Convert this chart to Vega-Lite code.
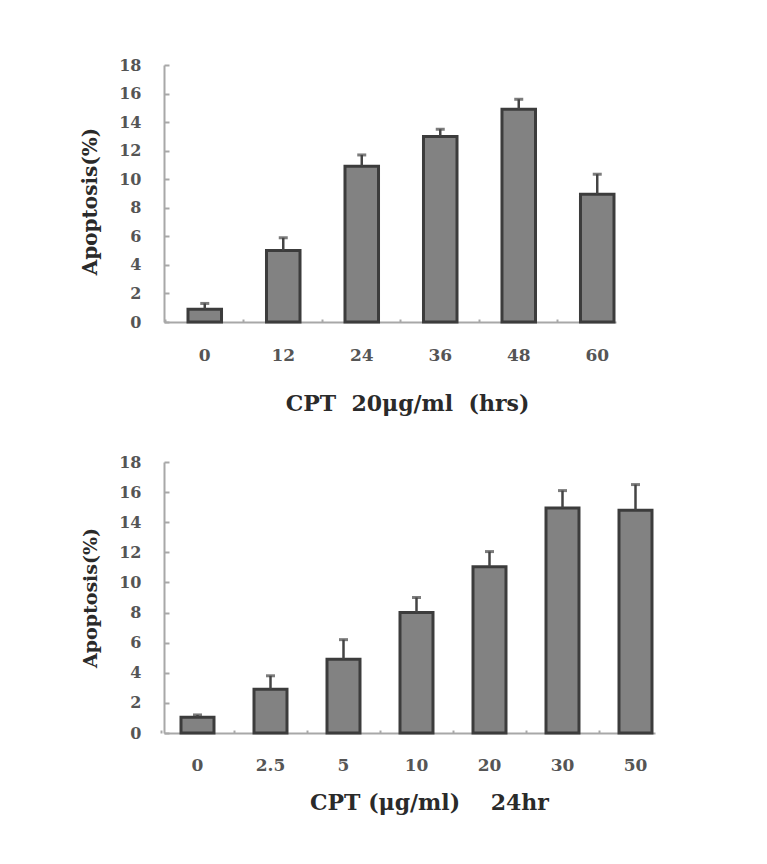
{
  "$schema": "https://vega.github.io/schema/vega-lite/v6.json",
  "background": "white",
  "padding": {"left": 80, "top": 57, "right": 5, "bottom": 5},
  "config": {
    "view": {"stroke": null},
    "font": "DejaVu Serif",
    "axis": {
      "labelFont": "DejaVu Serif",
      "titleFont": "DejaVu Serif",
      "labelFontWeight": "bold",
      "titleFontWeight": "bold",
      "labelColor": "#555",
      "titleColor": "#2a2a2a",
      "domainColor": "#a8a8a8",
      "domainWidth": 2,
      "tickColor": "#a8a8a8",
      "tickWidth": 2,
      "grid": false
    }
  },
  "spacing": 40,
  "vconcat": [
    {
      "width": 452,
      "height": 257,
      "data": {"values": [
        {"t": "0", "v": 0.9, "hi": 1.3},
        {"t": "12", "v": 5.0, "hi": 5.9},
        {"t": "24", "v": 10.9, "hi": 11.7},
        {"t": "36", "v": 13.0, "hi": 13.5},
        {"t": "48", "v": 14.9, "hi": 15.6},
        {"t": "60", "v": 8.95, "hi": 10.35}
      ]},
      "encoding": {
        "x": {"field": "t", "type": "ordinal", "sort": null,
          "scale": {"paddingInner": 0.573, "paddingOuter": 0.1656, "align": 0.923},
          "axis": {"title": "CPT\u00a0\u00a020μg/ml\u00a0\u00a0(hrs)", "titleFontSize": 22, "titleX": 243, "titleAlign": "center",
            "labelAngle": 0, "labelFontSize": 17, "labelBaseline": "middle", "labelPadding": 36, "titlePadding": 30,
            "bandPosition": -0.672, "tickSize": -3}}
      },
      "layer": [
        {"mark": {"type": "bar", "color": "#828282", "stroke": "#3c3c3c", "strokeWidth": 3},
         "encoding": {"y": {"field": "v", "type": "quantitative",
           "scale": {"domain": [0, 18]},
           "axis": {"title": "Apoptosis(%)", "titleFontSize": 20, "titleY": 136, "values": [0,2,4,6,8,10,12,14,16,18],
             "labelOverlap": false, "labelFontSize": 16, "tickSize": -5, "labelPadding": 28, "titlePadding": 18}}}},
        {"mark": {"type": "rule", "color": "#444", "strokeWidth": 2.5},
         "encoding": {"y": {"field": "v", "type": "quantitative",
           "axis": {"title": "Apoptosis(%)", "titleFontSize": 20, "titleY": 136, "values": [0,2,4,6,8,10,12,14,16,18],
             "labelOverlap": false, "labelFontSize": 16, "tickSize": -5, "labelPadding": 28, "titlePadding": 18}},
           "y2": {"field": "hi"}}},
        {"mark": {"type": "tick", "color": "#444", "thickness": 3, "size": 9},
         "encoding": {"y": {"field": "hi", "type": "quantitative",
           "axis": {"title": "Apoptosis(%)", "titleFontSize": 20, "titleY": 136, "values": [0,2,4,6,8,10,12,14,16,18],
             "labelOverlap": false, "labelFontSize": 16, "tickSize": -5, "labelPadding": 28, "titlePadding": 18}}}}
      ]
    },
    {
      "width": 491,
      "height": 271,
      "data": {"values": [
        {"c": "0", "v": 1.05, "hi": 1.2},
        {"c": "2.5", "v": 2.9, "hi": 3.8},
        {"c": "5", "v": 4.9, "hi": 6.2},
        {"c": "10", "v": 8.0, "hi": 9.0},
        {"c": "20", "v": 11.05, "hi": 12.05},
        {"c": "30", "v": 14.95, "hi": 16.1},
        {"c": "50", "v": 14.8, "hi": 16.5}
      ]},
      "encoding": {
        "x": {"field": "c", "type": "ordinal", "sort": null,
          "scale": {"paddingInner": 0.548, "paddingOuter": 0.137, "align": 0.85},
          "axis": {"title": "CPT (μg/ml)\u00a0\u00a0\u00a0\u00a024hr", "titleFontSize": 22, "titleX": 265, "titleAlign": "center",
            "labelAngle": 0, "labelFontSize": 17, "labelBaseline": "middle", "labelPadding": 35, "titlePadding": 19,
            "bandPosition": -0.606, "tickSize": -3}}
      },
      "layer": [
        {"mark": {"type": "bar", "color": "#828282", "stroke": "#3c3c3c", "strokeWidth": 3},
         "encoding": {"y": {"field": "v", "type": "quantitative",
           "scale": {"domain": [0, 18]},
           "axis": {"title": "Apoptosis(%)", "titleFontSize": 19, "values": [0,2,4,6,8,10,12,14,16,18],
             "labelOverlap": false, "labelFontSize": 16, "tickSize": -5, "labelPadding": 28, "titlePadding": 18}}}},
        {"mark": {"type": "rule", "color": "#444", "strokeWidth": 2.5},
         "encoding": {"y": {"field": "v", "type": "quantitative",
           "axis": {"title": "Apoptosis(%)", "titleFontSize": 19, "values": [0,2,4,6,8,10,12,14,16,18],
             "labelOverlap": false, "labelFontSize": 16, "tickSize": -5, "labelPadding": 28, "titlePadding": 18}},
           "y2": {"field": "hi"}}},
        {"mark": {"type": "tick", "color": "#444", "thickness": 3, "size": 9},
         "encoding": {"y": {"field": "hi", "type": "quantitative",
           "axis": {"title": "Apoptosis(%)", "titleFontSize": 19, "values": [0,2,4,6,8,10,12,14,16,18],
             "labelOverlap": false, "labelFontSize": 16, "tickSize": -5, "labelPadding": 28, "titlePadding": 18}}}}
      ]
    }
  ]
}
